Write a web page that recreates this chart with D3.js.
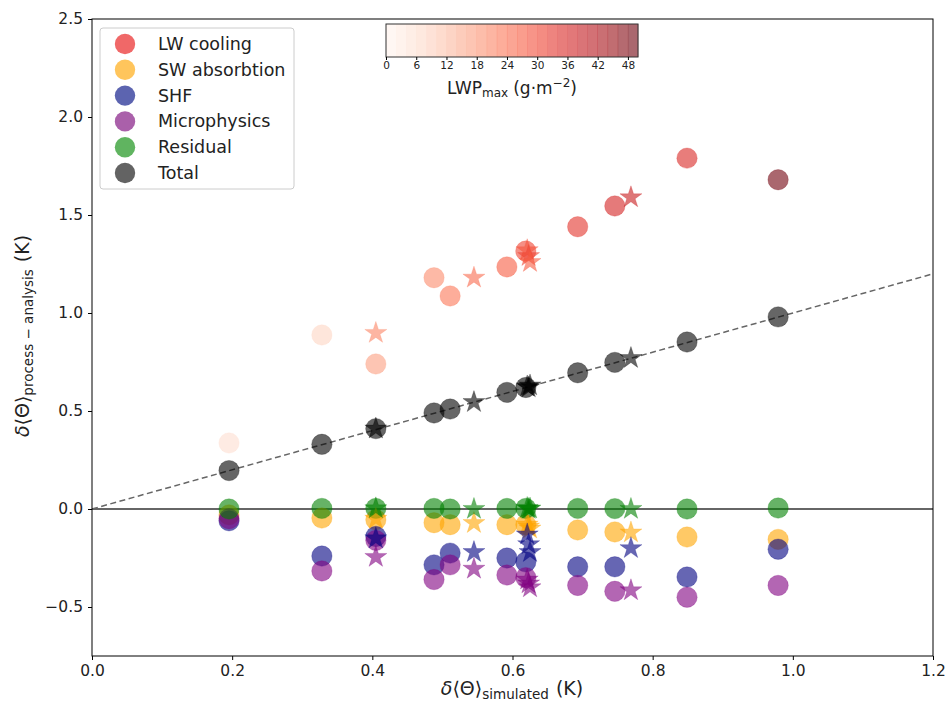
<!DOCTYPE html>
<html>
<head>
<meta charset="utf-8">
<script src="https://cdn.jsdelivr.net/npm/d3@7"></script>
<style>
  body { margin: 0; background: #fff; }
  svg { font-family: "DejaVu Sans", sans-serif; }
</style>
</head>
<body>
<div id="chart"></div>
<script>
// Circles (one set of runs)
const circleX = [0.1955, 0.328, 0.405, 0.488, 0.511, 0.592, 0.619, 0.693, 0.746, 0.849, 0.979];
const circleLWP = [6, 8, 17, 20, 23, 27, 30, 33, 36, 35, 49];
const circleLW = [0.337, 0.888, 0.74, 1.18, 1.087, 1.235, 1.316, 1.44, 1.546, 1.79, 1.68];
const circleSW = [-0.03, -0.046, -0.055, -0.07, -0.08, -0.08, -0.08, -0.107, -0.117, -0.143, -0.155];
const circleSHF = [-0.06, -0.24, -0.14, -0.285, -0.225, -0.25, -0.27, -0.295, -0.295, -0.347, -0.205];
const circleMicro = [-0.05, -0.316, -0.16, -0.36, -0.285, -0.337, -0.35, -0.39, -0.42, -0.45, -0.39];
const circleRes = [0.0, 0.003, 0.003, 0.003, 0.0, 0.003, 0.003, 0.003, 0.002, 0.0, 0.005];
const circleTotal = [0.196, 0.33, 0.41, 0.49, 0.51, 0.595, 0.62, 0.695, 0.748, 0.852, 0.98];

// Stars (second set of runs)
const starX = [0.405, 0.545, 0.621, 0.623, 0.625, 0.769];
const starLWP = [21, 25, 28, 30, 27, 38];
const starLW = [0.898, 1.18, 1.32, 1.29, 1.26, 1.59];
const starSW = [-0.05, -0.072, -0.08, -0.09, -0.10, -0.12];
const starSHF = [-0.15, -0.22, -0.13, -0.18, -0.22, -0.2];
const starMicro = [-0.245, -0.305, -0.36, -0.38, -0.40, -0.415];
const starRes = [0.003, 0.0, 0.005, 0.0, 0.002, 0.0];
const starTotal = [0.41, 0.545, 0.625, 0.62, 0.63, 0.77];

const seriesNames = ["LW cooling", "SW absorbtion", "SHF", "Microphysics", "Residual", "Total"];
const seriesColors = ["#ff0000", "#ffa500", "#000080", "#800080", "#008000", "#000000"];
const legendColors = ["#f06868", "#ffc55c", "#5c64b0", "#aa60aa", "#60b460", "#636363"];

const xTicks = [0, 0.2, 0.4, 0.6, 0.8, 1.0, 1.2];
const yTicks = [-0.5, 0, 0.5, 1.0, 1.5, 2.0, 2.5];
const cbTicks = [0, 6, 12, 18, 24, 30, 36, 42, 48];

const W = 949, H = 704;
const margin = { left: 92, right: 16, top: 19, bottom: 48 };
const alpha = 0.6;

const svg = d3.select("#chart").append("svg")
    .attr("width", W)
    .attr("height", H);

const x = d3.scaleLinear().domain([0, 1.2]).range([margin.left, W - margin.right]);
const y = d3.scaleLinear().domain([-0.75, 2.5]).range([H - margin.bottom, margin.top]);
const lwpColor = v => d3.interpolateReds(v / 50);

// y = 0 line and 1:1 line
svg.append("line")
    .attr("x1", x(0)).attr("x2", x(1.2))
    .attr("y1", y(0)).attr("y2", y(0))
    .style("stroke", "#666").style("stroke-width", 2);
svg.append("line")
    .attr("x1", x(0)).attr("x2", x(1.2))
    .attr("y1", y(0)).attr("y2", y(1.2))
    .style("stroke", "#666").style("stroke-width", 1.5)
    .style("stroke-dasharray", "6,3.5");

// build point list in drawing order
const circleSeries = [circleLW, circleSW, circleSHF, circleMicro, circleRes, circleTotal];
const starSeries = [starLW, starSW, starSHF, starMicro, starRes, starTotal];
const points = [];
circleSeries.forEach((vals, s) => {
    vals.forEach((v, i) => points.push({
        shape: "circle", x: circleX[i], y: v,
        color: s === 0 ? lwpColor(circleLWP[i]) : seriesColors[s]
    }));
});
starSeries.forEach((vals, s) => {
    vals.forEach((v, i) => points.push({
        shape: "star", x: starX[i], y: v,
        color: s === 0 ? lwpColor(starLWP[i]) : seriesColors[s]
    }));
});

const starPath = d3.symbol(d3.symbolStar, 150)();

svg.append("g").selectAll("path")
    .data(points)
    .enter()
    .append("path")
    .attr("d", d => d.shape === "circle" ? d3.symbol(d3.symbolCircle, Math.PI * 10.2 * 10.2)() : starPath)
    .attr("transform", d => `translate(${x(d.x)},${y(d.y)})`)
    .style("fill", d => d.color)
    .style("fill-opacity", alpha)
    .style("stroke", d => d.color)
    .style("stroke-opacity", alpha * 0.5)
    .style("stroke-width", 0.8);

// axes frame
svg.append("rect")
    .attr("x", x(0)).attr("y", y(2.5))
    .attr("width", x(1.2) - x(0)).attr("height", y(-0.75) - y(2.5))
    .style("fill", "none").style("stroke", "#000").style("stroke-width", 1);

const xAxis = svg.append("g")
    .attr("transform", `translate(0,${y(-0.75)})`)
    .call(d3.axisBottom(x).tickValues(xTicks).tickFormat(d3.format(".1f")).tickSize(4).tickPadding(5));
const yAxis = svg.append("g")
    .attr("transform", `translate(${x(0)},0)`)
    .call(d3.axisLeft(y).tickValues(yTicks).tickFormat(d3.format(".1f")).tickSize(4).tickPadding(5));
[xAxis, yAxis].forEach(a => {
    a.select(".domain").remove();
    a.selectAll("text").style("font-size", "15.5px").style("fill", "#222")
        .style("font-family", "DejaVu Sans, sans-serif");
    a.selectAll("line").style("stroke", "#000");
});
yAxis.selectAll("text").text(d => d < 0 ? "\u22120.5" : d3.format(".1f")(d));

// axis labels
const xl = svg.append("text")
    .attr("x", 512).attr("y", 695)
    .attr("text-anchor", "middle")
    .style("font-size", "19px").style("fill", "#222");
xl.append("tspan").style("font-style", "italic").text("\u03b4");
xl.append("tspan").text("\u27e8\u0398\u27e9");
xl.append("tspan").attr("baseline-shift", "-28%").style("font-size", "13.5px").text("simulated");
xl.append("tspan").attr("dx", 7).text("(K)");

const yl = svg.append("text")
    .attr("transform", "translate(29,336) rotate(-90)")
    .attr("text-anchor", "middle")
    .style("font-size", "19px").style("fill", "#222");
yl.append("tspan").style("font-style", "italic").text("\u03b4");
yl.append("tspan").text("\u27e8\u0398\u27e9");
yl.append("tspan").attr("baseline-shift", "-28%").style("font-size", "13.5px").text("process \u2212 analysis");
yl.append("tspan").attr("dx", 7).text("(K)");

// legend
const legend = svg.append("g");
legend.append("rect")
    .attr("x", 100).attr("y", 28).attr("width", 194).attr("height", 161)
    .attr("rx", 3)
    .style("fill", "#fff").style("stroke", "#ccc").style("stroke-width", 1);
seriesNames.forEach((name, i) => {
    const cy = 44 + i * 25.8;
    legend.append("circle")
        .attr("cx", 125).attr("cy", cy).attr("r", 10.2)
        .style("fill", legendColors[i]);
    legend.append("text")
        .attr("x", 158).attr("y", cy + 6)
        .style("font-size", "17.5px").style("fill", "#222")
        .text(name);
});

// colorbar
const cb = { x: 386, y: 24, w: 252, h: 33 };
const cbScale = d3.scaleLinear().domain([0, 50]).range([cb.x, cb.x + cb.w]);
const cbSteps = d3.range(0, 50, 2);
svg.append("g").selectAll("rect")
    .data(cbSteps)
    .enter()
    .append("rect")
    .attr("x", d => cbScale(d))
    .attr("y", cb.y)
    .attr("width", cbScale(2) - cbScale(0) + 0.3)
    .attr("height", cb.h)
    .style("fill", d => lwpColor(d + 1))
    .style("fill-opacity", alpha);
svg.append("rect")
    .attr("x", cb.x).attr("y", cb.y).attr("width", cb.w).attr("height", cb.h)
    .style("fill", "none").style("stroke", "#333").style("stroke-width", 1);
const cbAxis = svg.append("g")
    .attr("transform", `translate(0,${cb.y + cb.h})`)
    .call(d3.axisBottom(cbScale).tickValues(cbTicks).tickSize(3).tickPadding(2));
cbAxis.select(".domain").remove();
cbAxis.selectAll("text").style("font-size", "10.5px").style("fill", "#222")
    .style("font-family", "DejaVu Sans, sans-serif");
const cbl = svg.append("text")
    .attr("x", 512).attr("y", 94)
    .attr("text-anchor", "middle")
    .style("font-size", "17px").style("fill", "#222");
cbl.append("tspan").text("LWP");
cbl.append("tspan").attr("baseline-shift", "-25%").style("font-size", "12px").text("max");
cbl.append("tspan").attr("dx", 5).text("(g\u00b7m");
cbl.append("tspan").attr("baseline-shift", "super").style("font-size", "12px").text("\u22122");
cbl.append("tspan").text(")");
</script>
</body>
</html>
